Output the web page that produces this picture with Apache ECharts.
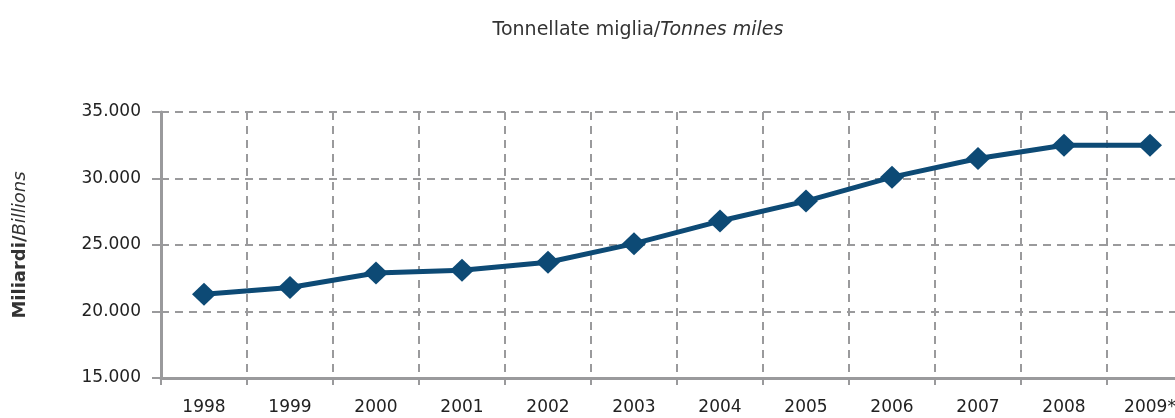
<!DOCTYPE html>
<html>
<head>
<meta charset="utf-8">
<script src="https://cdn.jsdelivr.net/npm/echarts@6/dist/echarts.min.js"></script>
<style>
  html, body { margin: 0; padding: 0; background: #fff; }
  #chart { width: 1175px; height: 418px; }
</style>
</head>
<body>
<div id="chart"></div>
<script>
// years on the x axis
var years = ["1998", "1999", "2000", "2001", "2002", "2003", "2004", "2005", "2006", "2007", "2008", "2009*"];
// tonnes miles, billions
var tonMiles = [21300, 21800, 22900, 23100, 23700, 25100, 26800, 28300, 30100, 31500, 32500, 32500];

var fontFam = "DejaVu Sans";
var grey = "#9a9a9c";
var navy = "#0d4a75";

var chart = echarts.init(document.getElementById("chart"));
chart.setOption({
  animation: false,
  title: {
    text: "{a|Tonnellate miglia/}{b|Tonnes miles}",
    left: 633,
    textAlign: "center",
    top: 16,
    textStyle: {
      fontWeight: "normal",
      rich: {
        a: { fontFamily: fontFam, fontSize: 19, fontWeight: "normal", color: "#333" },
        b: { fontFamily: fontFam, fontSize: 19, fontWeight: "normal", color: "#333", fontStyle: "italic" }
      }
    }
  },
  grid: {
    left: 161,
    top: 112,
    right: -18,
    height: 266,
    outerBoundsMode: "none"
  },
  xAxis: {
    type: "category",
    data: years,
    boundaryGap: true,
    axisLine: { lineStyle: { color: grey, width: 3 } },
    axisTick: { show: true, length: 7, lineStyle: { color: grey, width: 2 } },
    axisLabel: { margin: 21, fontFamily: fontFam, fontSize: 17, color: "#222" },
    splitLine: { show: true, lineStyle: { color: grey, width: 2, type: [8, 6] } }
  },
  yAxis: {
    type: "value",
    min: 15000,
    max: 35000,
    interval: 5000,
    name: "{a|Miliardi/}{b|Billions}",
    nameLocation: "middle",
    nameGap: 132,
    nameRotate: 90,
    nameTextStyle: {
      fontWeight: "normal",
      rich: {
        a: { fontFamily: fontFam, fontSize: 18, fontWeight: "bold", color: "#333" },
        b: { fontFamily: fontFam, fontSize: 18, fontWeight: "normal", fontStyle: "italic", color: "#333" }
      }
    },
    axisLine: { show: true, lineStyle: { color: grey, width: 3 } },
    axisTick: { show: true, length: 9, lineStyle: { color: grey, width: 2 } },
    axisLabel: {
      margin: 20,
      fontFamily: fontFam,
      fontSize: 17,
      color: "#222",
      formatter: function (v) { return v.toLocaleString("de-DE"); }
    },
    splitLine: { show: true, lineStyle: { color: grey, width: 2, type: [8, 6] } }
  },
  series: [
    {
      type: "line",
      data: tonMiles,
      symbol: "diamond",
      symbolSize: [24, 23],
      lineStyle: { color: navy, width: 5 },
      itemStyle: { color: navy }
    }
  ]
});
</script>
</body>
</html>
